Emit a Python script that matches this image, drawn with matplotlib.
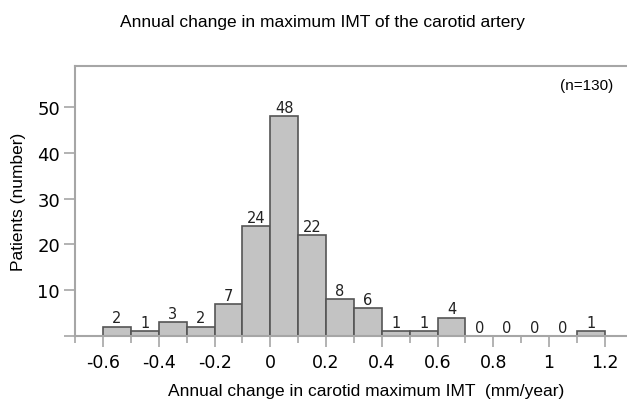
import numpy as np
import matplotlib.pyplot as plt
from matplotlib.ticker import MultipleLocator

# histogram bins (left edges) and counts
bin_edges = [-0.6, -0.5, -0.4, -0.3, -0.2, -0.1, 0.0, 0.1, 0.2, 0.3,
             0.4, 0.5, 0.6, 0.7, 0.8, 0.9, 1.0, 1.1, 1.2]
counts = [2, 1, 3, 2, 7, 24, 48, 22, 8, 6, 1, 1, 4, 0, 0, 0, 0, 1]
xticks = [-0.6, -0.4, -0.2, 0, 0.2, 0.4, 0.6, 0.8, 1, 1.2]
xticklabels = ['-0.6', '-0.4', '-0.2', '0', '0.2', '0.4', '0.6', '0.8', '1', '1.2']
yticks = [0, 10, 20, 30, 40, 50]

fig = plt.figure(figsize=(6.27, 4.02), dpi=100)
ax = fig.add_axes([0.12, 0.162, 0.88, 0.671])

grey = '#a6a6a6'
lefts = np.array(bin_edges[:-1])
widths = np.diff(bin_edges)
ax.bar(lefts, counts, width=widths, align='edge', color='#c3c3c3',
       edgecolor='#555555', linewidth=1.2)

for x, w, c in zip(lefts, widths, counts):
    ax.text(x + w / 2, c + 0.3, str(c), ha='center', va='bottom',
            fontsize=10.5, family='DejaVu Sans', color='#222222')

ax.set_xlim(-0.7, 1.28)
ax.set_ylim(0, 59)
ax.set_xticks(xticks)
ax.set_xticklabels(xticklabels, family='DejaVu Sans', fontsize=12.5)
ax.xaxis.set_minor_locator(MultipleLocator(0.1))
ax.set_yticks(yticks)
ax.set_yticklabels([''] + [str(v) for v in yticks[1:]], family='DejaVu Sans',
                   fontsize=13)

ax.spines['right'].set_visible(False)
for s in ['left', 'top', 'bottom']:
    ax.spines[s].set_color(grey)
    ax.spines[s].set_linewidth(1.5)
ax.tick_params(axis='x', which='major', length=8, width=1.2, color=grey,
               direction='out', pad=4)
ax.tick_params(axis='x', which='minor', length=5, width=1.2, color=grey,
               direction='out')
ax.tick_params(axis='y', length=8, width=1.2, color=grey, direction='out', pad=3)

ax.set_xlabel('Annual change in carotid maximum IMT  (mm/year)',
              family='Liberation Sans', fontsize=12.5)
ax.xaxis.set_label_coords(0.527, -0.175)
ax.set_ylabel('Patients (number)', family='Liberation Sans', fontsize=12.5,
              labelpad=8)
ax.text(0.975, 0.93, '(n=130)', transform=ax.transAxes, ha='right',
        va='center', family='Liberation Sans', fontsize=11)

fig.text(0.514, 0.945, 'Annual change in maximum IMT of the carotid artery',
         ha='center', va='center', family='Liberation Sans', fontsize=12.5)

fig.savefig('out.png', dpi=100)
